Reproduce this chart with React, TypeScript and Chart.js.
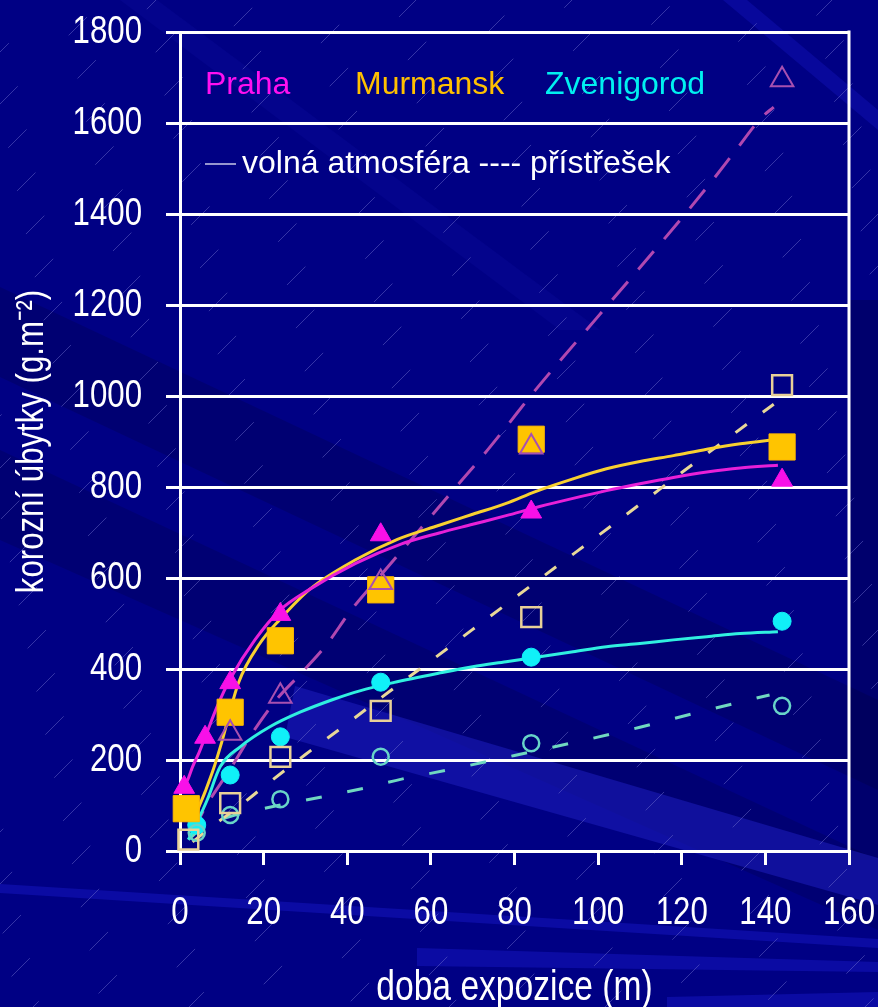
import React, { useEffect, useRef } from 'react';
import { Chart, registerables } from 'chart.js';

Chart.register(...registerables);

const W = 878;
const H = 1007;

// Axes
const X_MIN = 0;
const X_MAX = 160;
const X_STEP = 20;
const Y_MIN = 0;
const Y_MAX = 1800;
const Y_STEP = 200;
const xTitle = 'doba expozice (m)';
const yTitle = 'korozní úbytky (g.m⁻²)';

// Legend texts
const cityNames = ['Praha', 'Murmansk', 'Zvenigorod'];
const legendRow2 = 'volná atmosféra ---- přístřešek';

// Measured points – open atmosphere (filled markers)
const prahaOpenX = [1, 6, 12, 24, 48, 84, 144];
const prahaOpenY = [140, 250, 370, 520, 695, 745, 815];
const murmanskOpenX = [1.5, 12, 24, 48, 84, 144];
const murmanskOpenY = [93, 305, 462, 574, 905, 888];
const zvenOpenX = [4, 12, 24, 48, 84, 144];
const zvenOpenY = [57, 167, 251, 371, 426, 505];

// Measured points – shelter (open markers)
const prahaShelterX = [12, 24, 48, 84, 144];
const prahaShelterY = [259, 340, 590, 888, 1695];
const murmanskShelterX = [2, 12, 24, 48, 84, 144];
const murmanskShelterY = [25, 105, 207, 308, 514, 1024];
const zvenShelterX = [4, 12, 24, 48, 84, 144];
const zvenShelterY = [40, 79, 114, 207, 237, 319];

// Fitted curves – open atmosphere (solid)
const prahaFitX = [0.5, 2, 3, 4.5, 6, 9, 12, 18, 24, 31, 42, 53, 62, 70, 78, 86, 94, 102, 110, 118, 126, 134, 143];
const prahaFitY = [130, 160, 185, 215, 250, 320, 378, 465, 530, 575, 632, 675, 699, 718, 737, 757, 775, 792, 807, 821, 833, 842, 848];
const murmanskFitX = [3, 4, 6, 8, 10, 14, 19, 24, 31, 42, 52, 62, 70, 78, 85, 94, 102, 110, 118, 126, 134, 143];
const murmanskFitY = [55, 84, 130, 180, 240, 370, 455, 510, 575, 640, 685, 716, 740, 764, 790, 818, 840, 856, 869, 883, 895, 905];
const zvenFitX = [2, 4, 6.5, 9.6, 14.4, 21.5, 28.7, 36.6, 43, 51, 62, 70, 78, 86, 94, 102, 110, 118, 126, 134, 143];
const zvenFitY = [25, 62, 112, 185, 229, 273, 305, 333, 352, 370, 391, 405, 416, 427, 438, 449, 456, 464, 471, 478, 482];

// Fitted curves – shelter (dashed)
const prahaShFitX = [3, 6, 12, 17.5, 23, 29, 35, 41, 48, 55, 66, 72, 78, 84, 100, 121, 127, 133, 139, 142];
const prahaShFitY = [40, 95, 180, 262, 332, 391, 453, 530, 606, 681, 800, 864, 932, 1002, 1175, 1402, 1470, 1541, 1611, 1635];
const murmanskShFitX = [3, 6, 10, 14, 20, 30, 40, 50, 60, 70, 80, 90, 100, 110, 120, 130, 142];
const murmanskShFitY = [20, 42, 70, 97, 141, 212, 280, 350, 418, 487, 556, 625, 693, 762, 832, 900, 982];
const zvenShFitX = [2, 5, 10, 16, 24, 34, 44, 53, 64, 80, 95, 110, 124, 141];
const zvenShFitY = [25, 48, 70, 85, 101, 119, 138, 158, 178, 210, 240, 272, 305, 343];

// 'xcond' marks text that is drawn horizontally condensed (narrow slide font)
const NARROW = "'Liberation Sans', Arial, xcond, sans-serif";
const SANS = "'Liberation Sans', Arial, sans-serif";
const CONDENSE = 0.8;

const pts = (xs: number[], ys: number[]) => xs.map((x, i) => ({ x, y: ys[i] }));

const bgPlugin = {
  id: 'slideBackground',
  beforeDraw(chart: any) {
    const ctx = chart.ctx as CanvasRenderingContext2D;
    const w = chart.width;
    const h = chart.height;
    ctx.save();
    ctx.fillStyle = '#000084';
    ctx.fillRect(0, 0, w, h);
    const poly = (p: number[][], c: string) => {
      ctx.fillStyle = c;
      ctx.beginPath();
      ctx.moveTo(p[0][0], p[0][1]);
      for (let i = 1; i < p.length; i++) ctx.lineTo(p[i][0], p[i][1]);
      ctx.closePath();
      ctx.fill();
    };
    // darker diagonal bands
    poly([[0, 287], [878, 700], [878, 790], [0, 377]], 'rgba(0,0,50,0.22)');
    poly([[0, 450], [878, 860], [878, 930], [0, 540]], 'rgba(0,0,50,0.2)');
    poly([[850, 300], [878, 300], [878, 860], [850, 860]], 'rgba(0,0,40,0.25)');
    // lighter bands
    poly([[120, 0], [157, 0], [600, 330], [560, 330]], 'rgba(20,20,180,0.18)');
    poly([[723, 0], [747, 0], [878, 110], [878, 130]], 'rgba(20,20,190,0.4)');
    poly([[295, 686], [878, 858], [878, 905], [285, 737]], 'rgba(30,30,190,0.55)');
    poly([[0, 884], [878, 939], [878, 948], [0, 893]], 'rgba(20,20,190,0.55)');
    poly([[417, 948], [878, 962], [878, 972], [417, 966]], 'rgba(20,20,190,0.55)');
    poly([[667, 997], [878, 992], [878, 1007], [667, 1007]], 'rgba(20,20,190,0.55)');
    // fine diagonal texture
    ctx.strokeStyle = 'rgba(120,120,210,0.45)';
    ctx.lineWidth = 1;
    ctx.setLineDash([26, 72]);
    for (let c = 0, k = 0; c < w + h; c += 52, k++) {
      ctx.lineDashOffset = (k * 37) % 98;
      ctx.beginPath();
      ctx.moveTo(c, 0);
      ctx.lineTo(c - h, h);
      ctx.stroke();
    }
    ctx.restore();
  },
};

// draws text whose font carries the 'xcond' marker horizontally condensed
const condensePlugin = {
  id: 'condensedText',
  beforeDraw(chart: any) {
    const ctx = chart.ctx as any;
    if (ctx.__origFillText) return;
    const orig = ctx.fillText;
    ctx.__origFillText = orig;
    ctx.fillText = function (text: string, x: number, y: number, maxWidth?: number) {
      if (String(this.font).indexOf('xcond') >= 0) {
        this.save();
        this.translate(x, y);
        this.scale(CONDENSE, 1);
        orig.call(this, text, 0, 0);
        this.restore();
      } else if (maxWidth === undefined) {
        orig.call(this, text, x, y);
      } else {
        orig.call(this, text, x, y, maxWidth);
      }
    };
  },
  afterDraw(chart: any) {
    const ctx = chart.ctx as any;
    if (ctx.__origFillText) {
      ctx.fillText = ctx.__origFillText;
      delete ctx.__origFillText;
    }
  },
};

const overlayPlugin = {
  id: 'overlayText',
  afterDraw(chart: any) {
    const ctx = chart.ctx as CanvasRenderingContext2D;
    const area = chart.chartArea;
    ctx.save();
    // right frame line
    ctx.strokeStyle = '#ffffff';
    ctx.lineWidth = 3;
    ctx.beginPath();
    ctx.moveTo(area.right, area.top - 1.5);
    ctx.lineTo(area.right, area.bottom);
    ctx.stroke();
    // legend row 1
    ctx.font = `32px ${SANS}`;
    ctx.textBaseline = 'alphabetic';
    ctx.textAlign = 'left';
    const colors = ['#FF10F0', '#FFC000', '#00F0F0'];
    const xs = [205, 355, 545];
    cityNames.forEach((n, i) => {
      ctx.fillStyle = colors[i];
      ctx.fillText(n, xs[i], 94);
    });
    // legend row 2
    ctx.strokeStyle = '#C8C8E8';
    ctx.lineWidth = 1.5;
    ctx.beginPath();
    ctx.moveTo(205, 164);
    ctx.lineTo(236, 164);
    ctx.stroke();
    ctx.fillStyle = '#ffffff';
    ctx.fillText(legendRow2, 242, 173);
    ctx.restore();
  },
};

export default function App() {
  const ref = useRef<HTMLCanvasElement | null>(null);

  useEffect(() => {
    document.body.style.margin = '0';
    const canvas = ref.current;
    if (!canvas) return;

    const curve = (label: string, xs: number[], ys: number[], color: string, dash: number[], order: number) => ({
      label,
      data: pts(xs, ys),
      showLine: true,
      borderColor: color,
      borderWidth: 3,
      borderDash: dash,
      pointRadius: 0,
      cubicInterpolationMode: 'monotone' as const,
      clip: false,
      order,
    });
    const marks = (label: string, xs: number[], ys: number[], style: string, r: number, fill: string, stroke: string, bw: number, order: number) => ({
      label,
      data: pts(xs, ys),
      showLine: false,
      pointStyle: style,
      pointRadius: r,
      pointBackgroundColor: fill,
      pointBorderColor: stroke,
      pointBorderWidth: bw,
      clip: false,
      order,
    });

    const chart = new Chart(canvas, {
      type: 'scatter',
      data: {
        datasets: [
          marks('Praha – přístřešek', prahaShelterX, prahaShelterY, 'triangle', 13, 'rgba(0,0,0,0)', '#A850B0', 2, 1),
          marks('Murmansk – přístřešek', murmanskShelterX, murmanskShelterY, 'rect', 14, 'rgba(0,0,0,0)', '#E8D098', 2.5, 2),
          marks('Zvenigorod – přístřešek', zvenShelterX, zvenShelterY, 'circle', 8, 'rgba(0,0,0,0)', '#68D4C8', 2.5, 3),
          marks('Praha – volná atmosféra', prahaOpenX, prahaOpenY, 'triangle', 12, '#F810E8', '#F810E8', 1, 4),
          marks('Murmansk – volná atmosféra', murmanskOpenX, murmanskOpenY, 'rect', 18.5, '#FFC400', '#FFB800', 1, 5),
          marks('Zvenigorod – volná atmosféra', zvenOpenX, zvenOpenY, 'circle', 9, '#10F0F8', '#10F0F8', 1, 6),
          curve('Praha fit', prahaFitX, prahaFitY, '#E820D8', [], 7),
          curve('Murmansk fit', murmanskFitX, murmanskFitY, '#F8D030', [], 8),
          curve('Zvenigorod fit', zvenFitX, zvenFitY, '#30F0E0', [], 9),
          curve('Praha přístřešek fit', prahaShFitX, prahaShFitY, '#B048B0', [24, 16], 10),
          curve('Murmansk přístřešek fit', murmanskShFitX, murmanskShFitY, '#E8D898', [14, 20], 11),
          curve('Zvenigorod přístřešek fit', zvenShFitX, zvenShFitY, '#70D8C0', [16, 26], 12),
        ],
      },
      options: {
        responsive: false,
        animation: false,
        devicePixelRatio: 1,
        layout: { padding: { left: 0, top: 32, right: 29, bottom: 0 } },
        plugins: { legend: { display: false }, tooltip: { enabled: false } },
        scales: {
          x: {
            type: 'linear',
            min: X_MIN,
            max: X_MAX,
            ticks: {
              stepSize: X_STEP,
              color: '#ffffff',
              font: { family: NARROW, size: 39 },
              padding: 25,
              maxRotation: 0,
              autoSkip: false,
              callback: (v: any) => String(v),
            },
            grid: { drawOnChartArea: false, color: '#ffffff', lineWidth: 3, tickLength: 14, tickWidth: 3 },
            border: { color: '#ffffff', width: 3 },
            title: { display: true, text: xTitle, color: '#ffffff', font: { family: NARROW, size: 42, lineHeight: 0.9 }, padding: { top: 0, bottom: 0 } },
            afterFit(s: any) {
              s.height = H - 851;
              s.paddingLeft = 0;
              s.paddingRight = 0;
            },
          },
          y: {
            type: 'linear',
            min: Y_MIN,
            max: Y_MAX,
            ticks: { stepSize: Y_STEP, color: '#ffffff', font: { family: NARROW, size: 39 }, padding: 24, callback: (v: any) => String(v) },
            grid: { color: '#ffffff', lineWidth: 3, tickLength: 14, tickWidth: 3 },
            border: { color: '#ffffff', width: 3 },
            title: { display: true, text: yTitle, color: '#ffffff', font: { family: NARROW, size: 39, lineHeight: 0.9 }, padding: { top: 15, bottom: 0 } },
            afterFit(s: any) {
              s.width = 180;
              s.paddingTop = 0;
              s.paddingBottom = 0;
            },
          },
        },
      },
      plugins: [bgPlugin, condensePlugin, overlayPlugin],
    } as any);

    return () => chart.destroy();
  }, []);

  return (
    <div style={{ position: 'fixed', left: 0, top: 0, width: W, height: H, background: '#000084' }}>
      <canvas ref={ref} width={W} height={H} style={{ width: W, height: H, display: 'block' }} />
    </div>
  );
}
